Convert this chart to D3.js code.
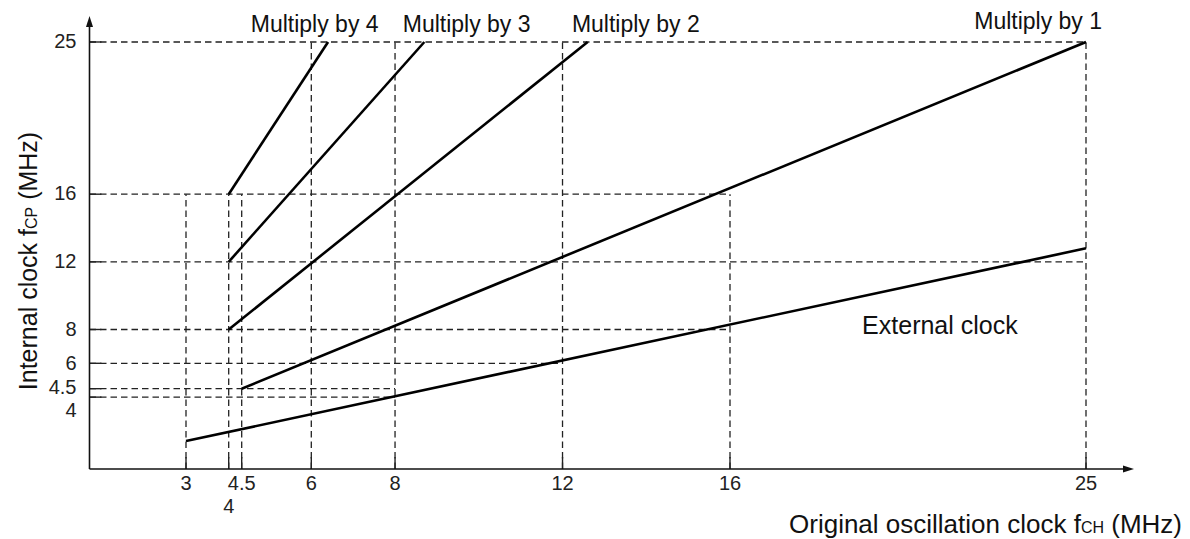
<!DOCTYPE html>
<html>
<head>
<meta charset="utf-8">
<script src="https://cdn.jsdelivr.net/npm/d3@7"></script>
<style>
  html, body { margin: 0; padding: 0; background: #fff; }
  svg { display: block; font-family: "Liberation Sans", Arial, Helvetica, sans-serif; }
</style>
</head>
<body>
<svg id="chart" width="1190" height="539"></svg>
<script>
// ---- data ----
const xTicks = [3, 4, 4.5, 6, 8, 12, 16, 25];
const yTicks = [4, 4.5, 6, 8, 12, 16, 25];
const xTickLabels = ["3", "4", "4.5", "6", "8", "12", "16", "25"];
const yTickLabels = ["4", "4.5", "6", "8", "12", "16", "25"];
const staggeredTicks = [4];           // labels pushed aside to avoid overlap with 4.5

// dashed guide lines: value and the value on the other axis where they stop
const hGridAt   = [25, 16, 12, 8, 6, 4.5, 4];
const hGridTo   = [25, 16, 25, 16, 12, 8, 8];
const vGridAt   = [3, 4, 4.5, 6, 8, 12, 16, 25];
const vGridTo   = [16, 16, 16, 25, 25, 25, 16, 25];

// lines [fCH, fCP]
const seriesNames = ["Multiply by 4", "Multiply by 3", "Multiply by 2", "Multiply by 1", "External clock"];
const multiplyBy4 = [[4, 16], [6.4, 25]];
const multiplyBy3 = [[4, 12], [8.7, 25]];
const multiplyBy2 = [[4, 8], [12.6, 25]];
const multiplyBy1 = [[4.5, 4.5], [25, 25]];
const externalClock = [[3, 1.4], [25, 12.8]];
const seriesData = [multiplyBy4, multiplyBy3, multiplyBy2, multiplyBy1, externalClock];
// label anchors in data units
const labelX = [6.08, 9.71, 13.75, 23.79, 19.34];
const labelY = [25.6, 25.6, 25.6, 25.78, 7.72];

// ---- layout ----
const svg = d3.select("#chart");
const originX = 89.5, originY = 469;
const axisEndX = 1134, axisTopY = 16;

// the original drawing uses an irregular horizontal spacing
const x = d3.scaleLinear()
  .domain([3, 4, 4.5, 6, 16, 25])
  .range([186, 228.7, 241.7, 311.3, 730, 1086]);
const y = d3.scaleLinear().domain([-0.25, 25]).range([originY, 42]);

const gridColor = "#222";
const textColor = "#222";

// dashed guides
const g = svg.append("g");
g.selectAll("line.h").data(hGridAt).enter().append("line")
  .attr("x1", originX).attr("x2", (d, i) => x(hGridTo[i]))
  .attr("y1", d => y(d)).attr("y2", d => y(d))
  .attr("stroke", gridColor).attr("stroke-width", 1.3)
  .attr("stroke-dasharray", "6.5,4");
g.selectAll("line.v").data(vGridAt).enter().append("line")
  .attr("x1", d => x(d)).attr("x2", d => x(d))
  .attr("y1", originY).attr("y2", (d, i) => y(vGridTo[i]))
  .attr("stroke", gridColor).attr("stroke-width", 1.3)
  .attr("stroke-dasharray", "6.5,4");

// tick marks (solid, inward)
g.selectAll("line.xt").data(xTicks).enter().append("line")
  .attr("x1", d => x(d)).attr("x2", d => x(d))
  .attr("y1", originY).attr("y2", originY - 12)
  .attr("stroke", gridColor).attr("stroke-width", 1.4);
g.selectAll("line.yt").data(yTicks).enter().append("line")
  .attr("x1", originX).attr("x2", originX + 12)
  .attr("y1", d => y(d)).attr("y2", d => y(d))
  .attr("stroke", gridColor).attr("stroke-width", 1.4);

// axes
svg.append("line").attr("x1", originX).attr("x2", axisEndX - 8)
  .attr("y1", originY).attr("y2", originY).attr("stroke", "#111").attr("stroke-width", 1.6);
svg.append("line").attr("x1", originX).attr("x2", originX)
  .attr("y1", originY).attr("y2", axisTopY + 8).attr("stroke", "#111").attr("stroke-width", 1.6);
svg.append("path")
  .attr("d", `M${axisEndX},${originY} L${axisEndX - 11},${originY - 3.5} L${axisEndX - 11},${originY + 3.5} Z`)
  .attr("fill", "#111");
svg.append("path")
  .attr("d", `M${originX},${axisTopY} L${originX - 3.5},${axisTopY + 11} L${originX + 3.5},${axisTopY + 11} Z`)
  .attr("fill", "#111");

// tick labels
svg.selectAll("text.xl").data(xTicks).enter().append("text")
  .attr("x", d => x(d))
  .attr("y", d => originY + (staggeredTicks.includes(d) ? 44 : 21))
  .attr("text-anchor", "middle")
  .attr("font-size", 20).attr("fill", textColor)
  .text((d, i) => xTickLabels[i]);
svg.selectAll("text.yl").data(yTicks).enter().append("text")
  .attr("x", originX - 13)
  .attr("y", d => y(d) + (staggeredTicks.includes(d) ? 13 : (d === 4.5 ? -2 : -1)))
  .attr("dy", "0.36em")
  .attr("text-anchor", "end")
  .attr("font-size", 20).attr("fill", textColor)
  .text((d, i) => yTickLabels[i]);

// series lines
const line = d3.line().x(d => x(d[0])).y(d => y(d[1]));
svg.selectAll("path.s").data(seriesData).enter().append("path")
  .attr("d", line).attr("fill", "none")
  .attr("stroke", "#000").attr("stroke-width", 2.6);

// series labels
svg.selectAll("text.sl").data(seriesNames).enter().append("text")
  .attr("x", (d, i) => x(labelX[i]))
  .attr("y", (d, i) => y(labelY[i]))
  .attr("text-anchor", (d, i) => i === 4 ? "start" : "middle")
  .attr("font-size", (d, i) => i === 4 ? 25 : 23)
  .attr("fill", "#111")
  .text(d => d);

// axis titles
const xt = svg.append("text")
  .attr("x", 1182).attr("y", 533)
  .attr("text-anchor", "end").attr("font-size", 26).attr("fill", "#111");
xt.append("tspan").text("Original oscillation clock f");
xt.append("tspan").attr("font-size", 16).text("CH");
xt.append("tspan").text(" (MHz)");

const yt = svg.append("text")
  .attr("transform", "translate(37,261) rotate(-90)")
  .attr("text-anchor", "middle").attr("font-size", 25).attr("fill", "#111");
yt.append("tspan").text("Internal clock f");
yt.append("tspan").attr("font-size", 16).text("CP");
yt.append("tspan").text(" (MHz)");
</script>
</body>
</html>
